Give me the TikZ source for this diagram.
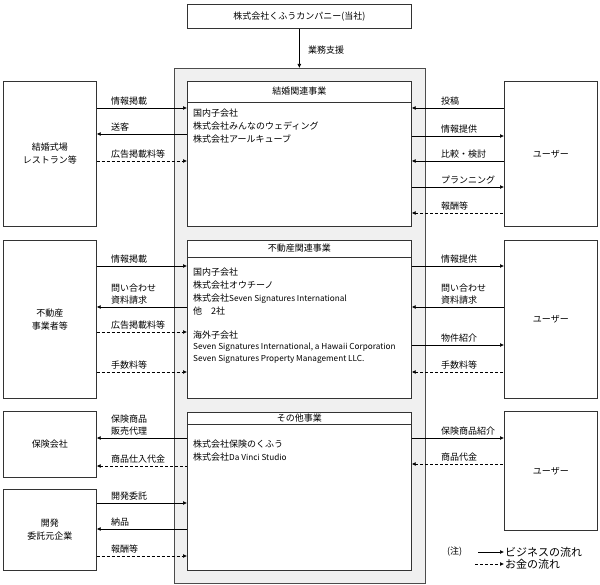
\documentclass[tikz,border=0pt]{standalone}
\usepackage{fontspec}
\setmainfont{Noto Sans CJK JP}
\usetikzlibrary{arrows.meta}
\tikzstyle{party} = [draw=black!80, fill=white, line width=.7pt, anchor=north west, inner sep=0pt, align=center, minimum width=93pt]
\tikzstyle{division} = [draw=black!80, fill=white, line width=.7pt, anchor=north west, inner sep=0pt, minimum width=224pt]
\tikzstyle{biz} = [line width=.7pt, -{Latex[length=4pt,width=4pt]}]
\tikzstyle{bizback} = [line width=.7pt, {Latex[length=4pt,width=4pt]}-]
\tikzstyle{money} = [biz, dash pattern=on 3pt off 2pt]
\tikzstyle{moneyback} = [bizback, dash pattern=on 3pt off 2pt]
\tikzstyle{lbl} = [anchor=west, inner sep=0pt, align=left]
\tikzstyle{ltag} = [lbl, pos=0, xshift=14pt, yshift=6.5pt]
\tikzstyle{rtag} = [lbl, pos=0, xshift=29pt, yshift=6.5pt]
\tikzstyle{twoline} = [yshift=6.5pt, font=\fontsize{9}{12.3}\selectfont]
\newcommand{\en}[1]{{\fontsize{8.2}{9}\selectfont #1}}

\begin{document}
\begin{tikzpicture}[x=1pt, y=-1pt, font=\fontsize{9}{13}\selectfont]
\useasboundingbox (0,0) rectangle (600,585);
% holding company and group frame
\node[party, minimum width=224pt, minimum height=24pt] (kufu) at (187,4) {株式会社くふうカンパニー(当社)};
\node[draw=black!70, fill=black!6, line width=1pt, anchor=north west, inner sep=0pt,
      minimum width=251pt, minimum height=515pt] (group) at (174,68) {};
\draw[biz] (kufu.south) -- (kufu.south |- group.north);
\node[lbl] (shien) at (308,50) {業務支援};

% divisions
\node[division, minimum height=145pt] (wed) at (187,81) {};
\draw[line width=.7pt, black!80] (wed.west |- 0,102) -- (wed.east |- 0,102);
\node (wedhead) at (wed.north |- 0,91.5) {結婚関連事業};
\node[lbl] (wedsubs) at (193,126) {国内子会社\\株式会社みんなのウェディング\\株式会社アールキューブ};

\node[division, minimum height=158pt] (estate) at (187,240) {};
\draw[line width=.7pt, black!80] (estate.west |- 0,257) -- (estate.east |- 0,257);
\node (estatehead) at (estate.north |- 0,248.5) {不動産関連事業};
\node[lbl, font=\fontsize{9}{12.9}\selectfont] (estatejp) at (193,291.7)
  {国内子会社\\株式会社オウチーノ\\株式会社\en{Seven Signatures International}\\他　2社};
\node[lbl, font=\fontsize{9}{11.7}\selectfont] (estateus) at (193,347)
  {海外子会社\\\en{Seven Signatures International, a Hawaii Corporation}\\\en{Seven Signatures Property Management LLC.}};

\node[division, minimum height=158pt] (other) at (187,412) {};
\draw[line width=.7pt, black!80] (other.west |- 0,424) -- (other.east |- 0,424);
\node (otherhead) at (other.north |- 0,418) {その他事業};
\node[lbl] (othersubs) at (193,450.5) {株式会社保険のくふう\\株式会社\en{Da Vinci Studio}};

% partners and users
\node[party, minimum height=145pt] (venue) at (3,81) {結婚式場\\レストラン等};
\node[party, minimum height=158pt] (agent) at (3,240) {不動産\\事業者等};
\node[party, minimum height=66pt] (insurer) at (3,411) {保険会社};
\node[party, minimum height=81pt] (client) at (3,489) {開発\\委託元企業};
\node[party, minimum height=145pt] (user1) at (504,81) {ユーザー};
\node[party, minimum height=158pt] (user2) at (504,240) {ユーザー};
\node[party, minimum height=119pt] (user3) at (504,411) {ユーザー};

% flows on the left
\draw[biz] (venue.east |- 0,108) -- node[ltag] (v1) {情報掲載} (wed.west |- 0,108);
\draw[bizback] (venue.east |- 0,134) -- node[ltag] (v2) {送客} (wed.west |- 0,134);
\draw[money] (venue.east |- 0,161) -- node[ltag] (v3) {広告掲載料等} (wed.west |- 0,161);
\draw[biz] (agent.east |- 0,266) -- node[ltag] (a1) {情報掲載} (estate.west |- 0,266);
\draw[bizback] (agent.east |- 0,307) -- node[ltag, twoline] (a2) {問い合わせ\\資料請求} (estate.west |- 0,307);
\draw[money] (agent.east |- 0,332) -- node[ltag] (a3) {広告掲載料等} (estate.west |- 0,332);
\draw[money] (agent.east |- 0,372) -- node[ltag] (a4) {手数料等} (estate.west |- 0,372);
\draw[bizback] (insurer.east |- 0,438) -- node[ltag, twoline] (i1) {保険商品\\販売代理} (other.west |- 0,438);
\draw[moneyback] (insurer.east |- 0,466) -- node[ltag] (i2) {商品仕入代金} (other.west |- 0,466);
\draw[biz] (client.east |- 0,503) -- node[ltag] (c1) {開発委託} (other.west |- 0,503);
\draw[bizback] (client.east |- 0,529) -- node[ltag] (c2) {納品} (other.west |- 0,529);
\draw[money] (client.east |- 0,556) -- node[ltag] (c3) {報酬等} (other.west |- 0,556);

% flows on the right
\draw[bizback] (wed.east |- 0,108) -- node[rtag] (u1) {投稿} (user1.west |- 0,108);
\draw[biz] (wed.east |- 0,136) -- node[rtag] (u2) {情報提供} (user1.west |- 0,136);
\draw[bizback] (wed.east |- 0,161) -- node[rtag] (u3) {比較・検討} (user1.west |- 0,161);
\draw[biz] (wed.east |- 0,187) -- node[rtag] (u4) {プランニング} (user1.west |- 0,187);
\draw[moneyback] (wed.east |- 0,213) -- node[rtag] (u5) {報酬等} (user1.west |- 0,213);
\draw[biz] (estate.east |- 0,266) -- node[rtag] (u6) {情報提供} (user2.west |- 0,266);
\draw[bizback] (estate.east |- 0,307) -- node[rtag, twoline] (u7) {問い合わせ\\資料請求} (user2.west |- 0,307);
\draw[biz] (estate.east |- 0,345) -- node[rtag] (u8) {物件紹介} (user2.west |- 0,345);
\draw[moneyback] (estate.east |- 0,372) -- node[rtag] (u9) {手数料等} (user2.west |- 0,372);
\draw[biz] (other.east |- 0,438) -- node[rtag] (u10) {保険商品紹介} (user3.west |- 0,438);
\draw[moneyback] (other.east |- 0,464) -- node[rtag] (u11) {商品代金} (user3.west |- 0,464);

% legend
\node[lbl] (note) at (447,552) {(注)};
\coordinate (bizfrom) at (478,552);
\coordinate (bizto) at (504,552);
\coordinate (moneyfrom) at (475,564);
\coordinate (moneyto) at (504,564);
\draw[biz] (bizfrom) -- (bizto);
\draw[money] (moneyfrom) -- (moneyto);
\node[lbl, font=\fontsize{11}{13}\selectfont] (bizkey) at ([xshift=1pt]bizto) {ビジネスの流れ};
\node[lbl, font=\fontsize{11}{13}\selectfont] (moneykey) at ([xshift=1pt]moneyto) {お金の流れ};
\end{tikzpicture}
\end{document}
